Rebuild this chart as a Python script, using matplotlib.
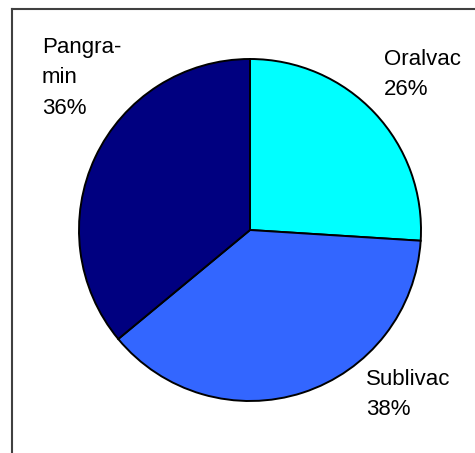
import matplotlib.pyplot as plt
from matplotlib.lines import Line2D

# Share of each product
products = ['Oralvac', 'Sublivac', 'Pangramin']
shares = [26, 38, 36]
label_text = ['Oralvac\n26%', 'Sublivac\n38%', 'Pangra-\nmin\n36%']
colors = ['#00FFFF', '#3366FF', '#000080']

W, H = 475, 453
fig = plt.figure(figsize=(W / 100, H / 100), dpi=100)
ax = fig.add_axes([0, 0, 1, 1])

ax.pie(shares, colors=colors, startangle=90, counterclock=False,
       center=(250, H - 230), radius=171, frame=True,
       wedgeprops=dict(edgecolor='black', linewidth=1.4))
ax.set_xlim(0, W)
ax.set_ylim(0, H)
ax.set_aspect('equal')
ax.axis('off')

# label positions (left, top) in pixels from the top-left corner
label_pos = [(384, 49), (366, 369), (42, 37)]
for txt, (px, py) in zip(label_text, label_pos):
    ax.text(px, H - py, txt, ha='left', va='top', fontsize=16,
            family='Liberation Sans', linespacing=1.58, color='black')

# chart area border (only left and top edges show)
fig.add_artist(Line2D([12 / W, 12 / W], [0, 1 - 9 / H], transform=fig.transFigure,
                      color='#404040', linewidth=1.5))
fig.add_artist(Line2D([12 / W, 1], [1 - 9 / H, 1 - 9 / H], transform=fig.transFigure,
                      color='#404040', linewidth=1.5))

fig.savefig('out.png', dpi=100)
